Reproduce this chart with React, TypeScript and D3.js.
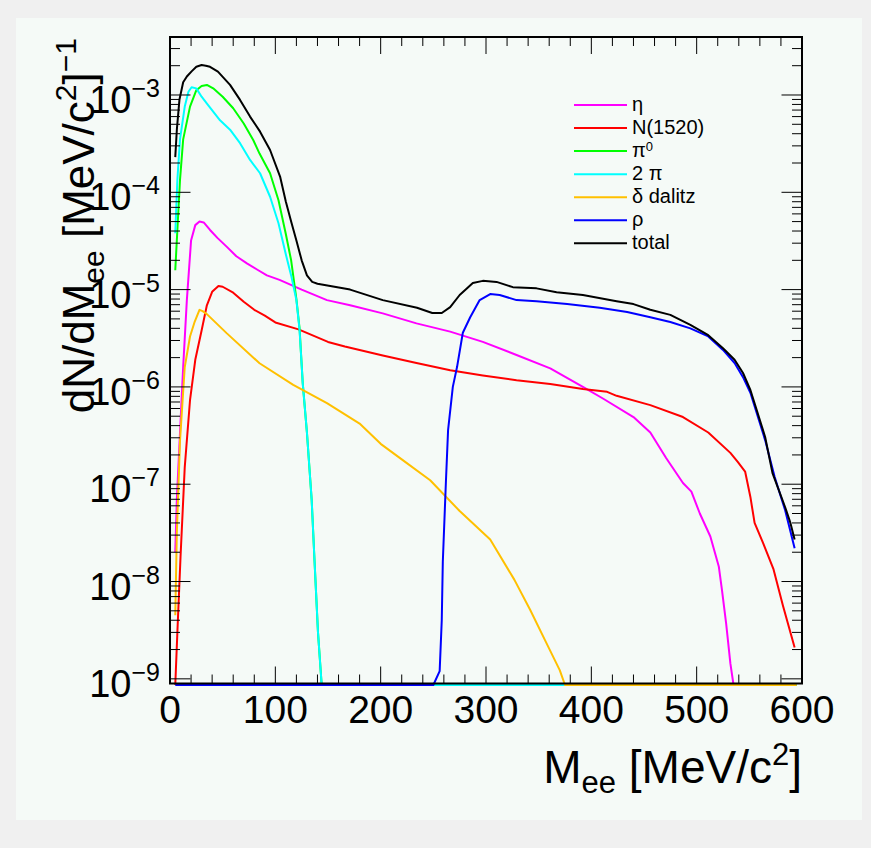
import React, { useEffect, useRef } from "react";
import * as d3 from "d3";

// dilepton cocktail, [M_ee in MeV/c2, dN/dM_ee]
const etaPts = [
  [5, 2e-8], [6.5, 7e-8], [9.5, 3.4e-7], [12.5, 1.6e-6], [16, 7.8e-6], [20, 3.2e-5],
  [24, 4.6e-5], [28, 5.0e-5], [32, 4.9e-5], [38, 4.1e-5], [45, 3.4e-5], [54, 2.75e-5],
  [63, 2.2e-5], [73, 1.86e-5], [83, 1.6e-5], [92, 1.4e-5], [104, 1.26e-5], [125, 1.0e-5],
  [149, 7.8e-6], [171, 6.9e-6], [202, 5.7e-6], [234, 4.5e-6], [266, 3.7e-6], [297, 2.9e-6],
  [329, 2.13e-6], [361, 1.55e-6], [392, 1.0e-6], [411, 7.6e-7], [440, 4.9e-7], [456, 3.4e-7],
  [471, 1.86e-7], [487, 1.03e-7], [495, 8.4e-8], [503, 5e-8], [513, 2.9e-8], [521, 1.43e-8],
  [524, 8.2e-9], [528, 3.7e-9], [532, 1.44e-9], [535, 0], [595, 0],
];
const n1520Pts = [
  [5, 0], [7, 3e-9], [10, 1.8e-8], [14, 1.5e-7], [19, 7.3e-7], [24, 1.9e-6], [30, 3.8e-6],
  [35, 6.9e-6], [40, 9.5e-6], [46, 1.09e-5], [50, 1.07e-5], [60, 9.3e-6], [70, 7.5e-6],
  [80, 6.2e-6], [90, 5.4e-6], [100, 4.6e-6], [122, 3.9e-6], [150, 2.9e-6], [166, 2.6e-6],
  [180, 2.4e-6], [202, 2.1e-6], [234, 1.76e-6], [266, 1.48e-6], [297, 1.31e-6], [329, 1.17e-6],
  [361, 1.07e-6], [392, 9.5e-7], [415, 8.9e-7], [424, 8.1e-7], [456, 6.5e-7], [487, 4.9e-7],
  [511, 3.4e-7], [532, 2.1e-7], [539, 1.7e-7], [546, 1.35e-7], [551, 7.4e-8], [555, 4.0e-8],
  [563, 2.5e-8], [573, 1.33e-8], [582, 5.6e-9], [593, 2.1e-9],
];
const pi0Pts = [
  [5, 1.58e-5], [7, 4.1e-5], [9.5, 1.34e-4], [12.5, 3.5e-4], [19, 7.6e-4], [25, 1.12e-3],
  [30, 1.24e-3], [35, 1.27e-3], [41, 1.17e-3], [50, 9.6e-4], [60, 7.3e-4], [70, 5.1e-4],
  [79, 3.45e-4], [85, 2.5e-4], [95, 1.57e-4], [103, 8.3e-5], [110, 3.7e-5], [115, 2.0e-5],
  [120, 8e-6], [123, 4e-6], [126, 1.1e-6], [130, 3.4e-7], [134.5, 6.9e-8], [137.5, 1.4e-8],
  [140.5, 3e-9], [144, 0], [595, 0],
];
const twoPiPts = [
  [5, 3.8e-5], [7, 1.34e-4], [9.5, 3.5e-4], [14, 7.6e-4], [17.5, 1.08e-3], [20.5, 1.2e-3],
  [25, 1.17e-3], [30, 9.6e-4], [36, 7.9e-4], [47.5, 5.5e-4], [57, 4.4e-4], [66.5, 3.2e-4],
  [76, 2.15e-4], [85.5, 1.57e-4], [95, 9.0e-5], [103, 4.8e-5], [110, 2.3e-5], [115, 1.4e-5],
  [120, 7.8e-6], [123, 3.85e-6], [126, 1.1e-6], [130, 3.4e-7], [134.5, 6.9e-8], [137.5, 1.4e-8],
  [140.5, 3e-9], [144, 0], [595, 0],
];
const deltaPts = [
  [5, 4.5e-9], [6.5, 3.2e-8], [9.5, 2.8e-7], [14, 1.6e-6], [19, 3.3e-6], [23.5, 4.7e-6],
  [28, 6.2e-6], [31, 6.0e-6], [35, 5.6e-6], [54, 3.55e-6], [85, 1.75e-6], [117, 1.05e-6],
  [149, 6.8e-7], [180, 4.2e-7], [200, 2.6e-7], [220, 1.8e-7], [247, 1.1e-7], [275, 5.3e-8],
  [304, 2.7e-8], [327, 1.04e-8], [342, 5.1e-9], [356, 2.5e-9], [370, 1.23e-9], [375, 0], [595, 0],
];
const rhoPts = [
  [5, 0], [250, 0], [256, 1.2e-9], [258, 4e-9], [259, 1.6e-8], [262, 1.1e-7], [264, 3.6e-7],
  [268.5, 1e-6], [272.5, 1.6e-6], [278, 3.6e-6], [285, 5.2e-6], [294, 7.8e-6], [304, 9.0e-6],
  [313, 8.8e-6], [329, 7.8e-6], [348, 7.6e-6], [377, 7.1e-6], [408, 6.5e-6], [434, 5.9e-6],
  [456, 5.2e-6], [475, 4.65e-6], [494, 4.0e-6], [511, 3.3e-6], [525, 2.4e-6], [536, 1.76e-6],
  [544, 1.26e-6], [551, 8.7e-7], [557, 5.4e-7], [565, 2.84e-7], [574, 1.19e-7], [584, 5.4e-8],
  [593, 2.2e-8],
];
const totalPts = [
  [5, 2.3e-4], [6.5, 4.4e-4], [9, 9e-4], [12.5, 1.35e-3], [16, 1.55e-3], [20.5, 1.75e-3],
  [25, 1.95e-3], [30, 2.03e-3], [34, 2.0e-3], [38, 1.95e-3], [45.5, 1.74e-3], [57, 1.27e-3],
  [66.5, 8.9e-4], [76, 6.0e-4], [85.5, 4.2e-4], [95, 2.72e-4], [104.5, 1.45e-4], [110, 8e-5],
  [115, 5e-5], [120, 3.2e-5], [125, 2.0e-5], [130, 1.4e-5], [135, 1.2e-5], [140, 1.15e-5],
  [171, 1.0e-5], [202, 7.8e-6], [234.5, 6.5e-6], [249, 5.75e-6], [258, 5.75e-6], [266, 6.6e-6],
  [275, 8.8e-6], [287.5, 1.17e-5], [297, 1.23e-5], [310, 1.2e-5], [325.5, 1.06e-5], [348, 1.03e-5],
  [367, 9.4e-6], [392, 8.8e-6], [424, 7.6e-6], [440, 7.1e-6], [456, 6.2e-6], [475, 5.5e-6],
  [494, 4.33e-6], [511, 3.4e-6], [525, 2.5e-6], [536, 1.9e-6], [544, 1.39e-6], [551, 9.3e-7],
  [557, 5.8e-7], [565, 3.06e-7], [572, 1.3e-7], [584, 5.8e-8], [589, 4.0e-8], [593, 2.7e-8],
];

// legend text: [main, superscript]
const labels = [["η", ""], ["N(1520)", ""], ["π", "0"], ["2 π", ""], ["δ dalitz", ""], ["ρ", ""], ["total", ""]];
const colors = ["#ff00ff", "#ff0000", "#00ff00", "#00ffff", "#ffc000", "#0000ff", "#000000"];
const allPts = [etaPts, n1520Pts, pi0Pts, twoPiPts, deltaPts, rhoPts, totalPts];

const xTicks = [0, 100, 200, 300, 400, 500, 600];
const yDecades = [-9, -8, -7, -6, -5, -4, -3];

const FONT = "'Liberation Sans', Arial, Helvetica, sans-serif";

const App = () => {
  const svgRef = useRef(null);

  useEffect(() => {
    const svg = d3.select(svgRef.current);
    svg.selectAll("*").remove();

    const left = 170, right = 802, top = 37, bottom = 683.5;

    svg.append("rect").attr("width", 871).attr("height", 848).attr("fill", "#f0f0f0");
    svg.append("rect").attr("x", 16).attr("y", 18).attr("width", 846).attr("height", 802).attr("fill", "#f5faf7");

    const x = d3.scaleLinear().domain([0, 600]).range([left, right]);
    const yMin = Math.pow(10, -9.048);
    const y = d3.scaleLog().domain([yMin, Math.pow(10, -2.404)]).range([bottom, top]);
    const yv = (v) => (v > yMin ? y(v) : bottom + 1.5);

    const line = d3.line().x((d) => x(d[0])).y((d) => yv(d[1]));

    const g = svg.append("g");
    allPts.forEach((pts, i) => {
      g.append("path")
        .datum(pts)
        .attr("d", line)
        .attr("fill", "none")
        .attr("stroke", colors[i])
        .attr("stroke-width", 2)
        .attr("stroke-linejoin", "round");
    });

    // frame
    svg.append("rect")
      .attr("x", left).attr("y", top)
      .attr("width", right - left).attr("height", bottom - top)
      .attr("fill", "none").attr("stroke", "#000").attr("stroke-width", 2);

    const ax = svg.append("g").attr("stroke", "#000").attr("stroke-width", 1);

    // x ticks, bottom and top
    for (let m = 0; m <= 600; m += 20) {
      const len = m % 100 === 0 ? 17 : 9;
      ax.append("line").attr("x1", x(m)).attr("x2", x(m)).attr("y1", bottom).attr("y2", bottom - len);
      ax.append("line").attr("x1", x(m)).attr("x2", x(m)).attr("y1", top).attr("y2", top + len);
    }

    // y ticks, left and right
    yDecades.forEach((e) => {
      for (let k = 1; k <= 9; k++) {
        const v = k * Math.pow(10, e);
        const [lo, hi] = y.domain();
        if (v < lo || v > hi) continue;
        const len = k === 1 ? 20.5 : 10;
        const py = y(v);
        ax.append("line").attr("x1", left).attr("x2", left + len).attr("y1", py).attr("y2", py);
        ax.append("line").attr("x1", right).attr("x2", right - len).attr("y1", py).attr("y2", py);
      }
    });

    // x labels
    svg.append("g")
      .selectAll("text")
      .data(xTicks)
      .enter()
      .append("text")
      .attr("x", (d) => x(d))
      .attr("y", 723)
      .attr("text-anchor", "middle")
      .attr("font-family", FONT)
      .attr("font-size", 39)
      .attr("fill", "#000")
      .text((d) => d);

    // y labels 10^e
    yDecades.forEach((e) => {
      const t = svg.append("text")
        .attr("x", 160)
        .attr("y", y(Math.pow(10, e)) + 18)
        .attr("text-anchor", "end")
        .attr("font-family", FONT)
        .attr("fill", "#000");
      t.append("tspan").attr("font-size", 38).text("10");
      t.append("tspan").attr("font-size", 25).attr("dy", -16).text("\u2212" + Math.abs(e));
    });

    // x title
    const xt = svg.append("text")
      .attr("x", 802).attr("y", 783)
      .attr("text-anchor", "end")
      .attr("font-family", FONT)
      .attr("font-size", 46)
      .style("white-space", "pre");
    xt.append("tspan").text("M");
    xt.append("tspan").attr("font-size", 31).attr("dy", 10).text("ee");
    xt.append("tspan").attr("dy", -10).text(" [MeV/c");
    xt.append("tspan").attr("font-size", 31).attr("dy", -18).text("2");
    xt.append("tspan").attr("dy", 18).text("]");

    // y title
    const yt = svg.append("text")
      .attr("transform", "translate(94,38) rotate(-90)")
      .attr("text-anchor", "end")
      .attr("font-family", FONT)
      .attr("font-size", 44)
      .style("white-space", "pre");
    yt.append("tspan").text("dN/dM");
    yt.append("tspan").attr("font-size", 30).attr("dy", 10).text("ee");
    yt.append("tspan").attr("dy", -10).text(" [MeV/c");
    yt.append("tspan").attr("font-size", 30).attr("dy", -18).text("2");
    yt.append("tspan").attr("dy", 18).text("]");
    yt.append("tspan").attr("font-size", 30).attr("dy", -18).text("\u22121");

    // legend
    const lg = svg.append("g");
    labels.forEach((lab, i) => {
      const ly = 105 + i * 23.05;
      lg.append("line")
        .attr("x1", 574).attr("x2", 627).attr("y1", ly).attr("y2", ly)
        .attr("stroke", colors[i]).attr("stroke-width", 2);
      const t = lg.append("text")
        .attr("x", 632).attr("y", ly + 6)
        .attr("font-family", FONT)
        .attr("font-size", 20)
        .attr("fill", "#000");
      t.append("tspan").text(lab[0]);
      if (lab[1]) t.append("tspan").attr("font-size", 13).attr("dy", -6).text(lab[1]);
    });
  }, []);

  return (
    <svg
      ref={svgRef}
      width="871"
      height="848"
      style={{ position: "absolute", left: 0, top: 0, display: "block" }}
    ></svg>
  );
};

export default App;
